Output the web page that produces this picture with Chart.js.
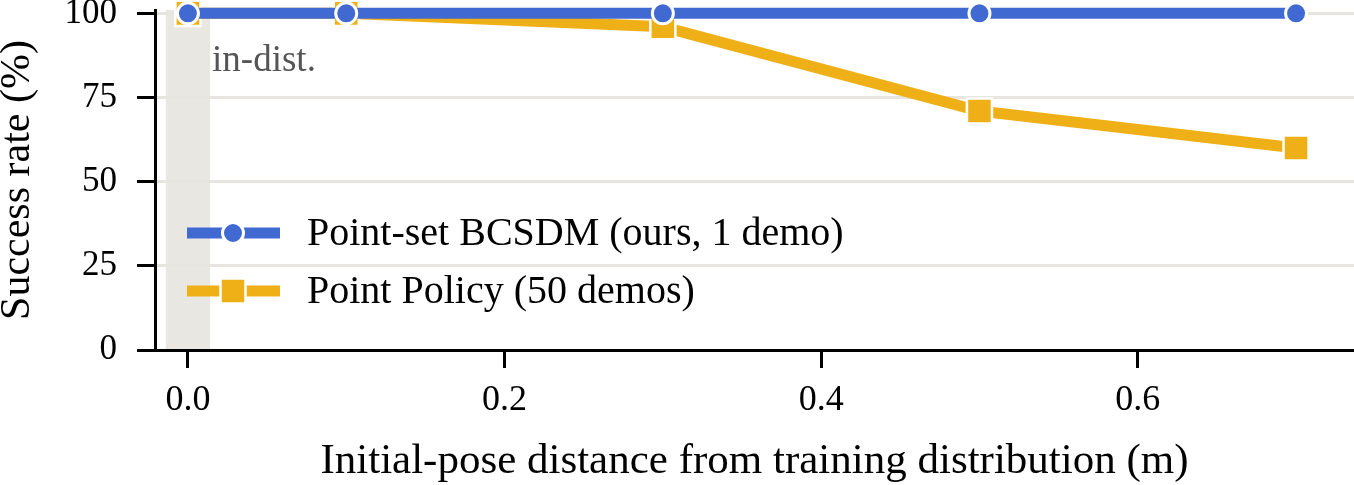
<!DOCTYPE html>
<html>
<head>
<meta charset="utf-8">
<script src="https://cdn.jsdelivr.net/npm/chart.js@4"></script>
<style>
  html, body { margin: 0; padding: 0; background: #fff; }
  #wrap { width: 1354px; height: 485px; position: relative; }
</style>
</head>
<body>
<div id="wrap"><canvas id="chart"></canvas></div>
<script>
// data
const distances = [0.0, 0.1, 0.3, 0.5, 0.7];
const bcsdmRate = [100, 100, 100, 100, 100];
const pointPolicyRate = [100, 100, 96, 71, 60];
const seriesLabels = ['Point-set BCSDM (ours, 1 demo)', 'Point Policy (50 demos)'];
const xTicks = [0, 0.2, 0.4, 0.6];
const yTicks = [0, 25, 50, 75, 100];
const inDistBand = [-0.014, 0.014];
const inDistLabel = 'in-dist.';

const SERIF = '"Liberation Serif", "DejaVu Serif", serif';
const BLUE = '#4169d2';
const ORANGE = '#efb017';
const GRID = '#e6e5e0';

// shaded in-distribution band, under the grid and axes
const bandPlugin = {
  id: 'band',
  beforeDraw(chart) {
    const { ctx, chartArea, scales } = chart;
    const x0 = scales.x.getPixelForValue(inDistBand[0]);
    const x1 = scales.x.getPixelForValue(inDistBand[1]);
    ctx.save();
    ctx.fillStyle = '#e8e7e2';
    ctx.fillRect(x0, chartArea.top, x1 - x0, chartArea.bottom - chartArea.top);
    ctx.restore();
  },
  afterDatasetsDraw(chart) {
    const { ctx, chartArea, scales } = chart;
    ctx.save();
    ctx.fillStyle = '#555555';
    ctx.font = '37px ' + SERIF;
    ctx.textBaseline = 'alphabetic';
    ctx.fillText(inDistLabel, scales.x.getPixelForValue(inDistBand[1]) + 2, chartArea.top + 61);
    ctx.restore();
  }
};

// matplotlib style legend: line - marker - line
const legendPlugin = {
  id: 'lineLegend',
  afterDraw(chart) {
    const { ctx, chartArea } = chart;
    const x0 = chartArea.left + 32;
    const rows = [chartArea.top + 223, chartArea.top + 281];
    ctx.save();
    chart.data.datasets.forEach((ds, i) => {
      const y = rows[i];
      ctx.strokeStyle = ds.borderColor;
      ctx.lineWidth = ds.borderWidth;
      ctx.beginPath();
      ctx.moveTo(x0, y);
      ctx.lineTo(x0 + 93, y);
      ctx.stroke();
      const mx = x0 + 46;
      ctx.fillStyle = ds.pointBackgroundColor;
      ctx.strokeStyle = '#fff';
      ctx.lineWidth = ds.pointBorderWidth;
      ctx.beginPath();
      if (ds.pointStyle === 'rect') {
        ctx.rect(mx - 12.5, y - 12.5, 25, 25);
      } else {
        ctx.arc(mx, y, ds.pointRadius, 0, Math.PI * 2);
      }
      ctx.fill();
      ctx.stroke();
      ctx.fillStyle = '#000';
      ctx.font = '40px ' + SERIF;
      ctx.textBaseline = 'middle';
      ctx.fillText(ds.label, x0 + 120, y + 1);
    });
    ctx.restore();
  }
};

new Chart(document.getElementById('chart'), {
  type: 'line',
  data: {
    datasets: [
      {
        label: seriesLabels[0],
        data: distances.map((x, i) => ({ x: x, y: bcsdmRate[i] })),
        borderColor: BLUE,
        borderWidth: 11,
        pointStyle: 'circle',
        pointRadius: 10.5,
        pointBackgroundColor: BLUE,
        pointBorderColor: '#fff',
        pointBorderWidth: 3,
        tension: 0,
        clip: false
      },
      {
        label: seriesLabels[1],
        data: distances.map((x, i) => ({ x: x, y: pointPolicyRate[i] })),
        borderColor: ORANGE,
        borderWidth: 11,
        pointStyle: 'rect',
        pointRadius: 17.7,
        pointBackgroundColor: ORANGE,
        pointBorderColor: '#fff',
        pointBorderWidth: 2.5,
        tension: 0,
        clip: false
      }
    ]
  },
  options: {
    responsive: true,
    maintainAspectRatio: false,
    animation: false,
    layout: { autoPadding: false, padding: { top: 10, right: 0, bottom: 0, left: 0 } },
    plugins: {
      legend: { display: false },
      tooltip: { enabled: false }
    },
    scales: {
      x: {
        type: 'linear',
        min: -0.0208,
        max: 0.7366,
        afterBuildTicks: (s) => { s.ticks = xTicks.map(v => ({ value: v })); },
        afterFit: (s) => { s.height = 135; s.paddingLeft = 0; s.paddingRight = 0; },
        grid: { drawOnChartArea: false, drawTicks: true, tickLength: 18, tickWidth: 3, tickColor: '#000' },
        border: { color: '#000', width: 3 },
        ticks: {
          color: '#000',
          padding: 15,
          maxRotation: 0,
          font: { family: SERIF, size: 36, lineHeight: 1 },
          callback: (v) => v.toFixed(1)
        },
        title: {
          display: true,
          text: 'Initial-pose distance from training distribution (m)',
          color: '#000',
          font: { family: SERIF, size: 43, lineHeight: 1 },
          padding: { top: 0, bottom: 2 }
        }
      },
      y: {
        min: 0,
        max: 101,
        afterBuildTicks: (s) => { s.ticks = yTicks.map(v => ({ value: v })); },
        afterFit: (s) => { s.width = 155; s.paddingTop = 0; s.paddingBottom = 0; },
        grid: { color: GRID, lineWidth: 3, tickLength: 18, tickWidth: 3, tickColor: '#000' },
        border: { color: '#000', width: 3 },
        ticks: {
          color: '#000',
          padding: 20,
          font: { family: SERIF, size: 35, lineHeight: 1 }
        },
        title: {
          display: true,
          text: 'Success rate (%)',
          color: '#000',
          font: { family: SERIF, size: 42, lineHeight: 1 },
          padding: { top: -3, bottom: 0 }
        }
      }
    }
  },
  plugins: [bandPlugin, legendPlugin]
});
</script>
</body>
</html>
